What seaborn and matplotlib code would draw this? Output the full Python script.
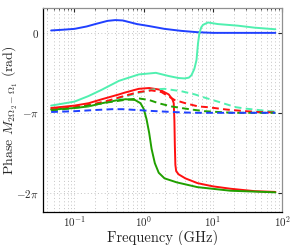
import numpy as np
import pandas as pd
import matplotlib
matplotlib.use("Agg")
import matplotlib.pyplot as plt
import seaborn as sns

# frequencies in GHz, phase values in units of pi
blue_f = [0.046, 0.07, 0.1, 0.15, 0.2, 0.3, 0.39, 0.5, 0.8, 1.2, 2, 3.5, 6, 10, 20, 40, 80]
blue_v = [0.03, 0.04, 0.05, 0.08, 0.11, 0.15, 0.16, 0.155, 0.11, 0.085, 0.05, 0.025, 0.008, 0.0, 0.0, 0.0, 0.0]

cyan_f = [0.046, 0.1, 0.16, 0.25, 0.44, 0.85, 1.5, 2.3, 3.2, 3.9, 4.5, 4.9, 5.4, 5.8, 6.1,
          6.4, 6.8, 7.2, 8.5, 11.8, 23, 40, 80]
cyan_v = [-0.91, -0.86, -0.79, -0.71, -0.60, -0.52, -0.50, -0.54, -0.565, -0.57, -0.56, -0.53,
          -0.45, -0.34, -0.13, 0.0, 0.07, 0.10, 0.13, 0.11, 0.09, 0.065, 0.045]

red_f = [0.046, 0.1, 0.16, 0.25, 0.44, 0.52, 0.85, 1.2, 1.7, 2.3, 2.6, 2.72, 2.78, 2.82, 2.87,
         2.95, 3.2, 4, 6, 10, 18, 40, 80]
red_v = [-0.94, -0.91, -0.88, -0.83, -0.77, -0.75, -0.70, -0.69, -0.71, -0.77, -0.83, -0.88,
         -1.1, -1.4, -1.65, -1.73, -1.77, -1.82, -1.88, -1.92, -1.95, -1.98, -1.99]

green_f = [0.046, 0.1, 0.16, 0.25, 0.4, 0.55, 0.75, 0.9, 1.0, 1.1, 1.2, 1.3, 1.45, 1.65, 2.0,
           3.0, 6, 18, 80]
green_v = [-0.96, -0.94, -0.92, -0.88, -0.845, -0.83, -0.84, -0.88, -0.95, -1.08, -1.25, -1.45,
           -1.63, -1.75, -1.82, -1.87, -1.93, -1.975, -1.995]

cyan_d_f = [0.046, 0.1, 0.19, 0.3, 0.52, 0.85, 1.3, 2.0, 3.5, 5.5, 7.6, 11.8, 21.5, 31.6, 58, 80]
cyan_d_v = [-0.97, -0.94, -0.90, -0.86, -0.80, -0.75, -0.71, -0.70, -0.73, -0.77, -0.81, -0.86,
            -0.93, -0.95, -0.975, -0.985]

red_d_f = [0.046, 0.1, 0.19, 0.3, 0.52, 0.85, 1.3, 1.8, 2.8, 4, 6.1, 8.5, 16, 30, 45, 80]
red_d_v = [-0.96, -0.93, -0.89, -0.85, -0.79, -0.74, -0.72, -0.74, -0.84, -0.88, -0.92, -0.93,
           -0.96, -0.98, -0.99, -0.995]

green_d_f = [0.046, 0.1, 0.19, 0.3, 0.52, 0.85, 1.2, 1.64, 2.5, 3.5, 5, 7.6, 12, 20, 80]
green_d_v = [-0.97, -0.94, -0.90, -0.87, -0.84, -0.82, -0.84, -0.88, -0.92, -0.94, -0.96, -0.98,
             -0.99, -1.0, -1.0]

blue_d_f = [0.046, 0.1, 0.2, 0.35, 0.5, 0.8, 1.2, 2, 3.5, 6, 80]
blue_d_v = [-0.99, -0.98, -0.965, -0.955, -0.955, -0.965, -0.975, -0.985, -0.995, -1.0, -1.0]

y_ticks = [-2, -1, 0]
y_ticklabels = [r"$-2\pi$", r"$-\pi$", r"$0$"]

series = [
    ("blue", "solid", blue_f, blue_v),
    ("cyan", "solid", cyan_f, cyan_v),
    ("red", "solid", red_f, red_v),
    ("green", "solid", green_f, green_v),
    ("cyan", "dashed", cyan_d_f, cyan_d_v),
    ("red", "dashed", red_d_f, red_d_v),
    ("green", "dashed", green_d_f, green_d_v),
    ("blue", "dashed", blue_d_f, blue_d_v),
]

rows = []
for col, sty, f, v in series:
    for fi, vi in zip(f, v):
        rows.append({"freq": fi, "phase": vi * np.pi, "line": f"{col}-{sty}", "style": sty})
df = pd.DataFrame(rows)

colors = {"blue": "#2040ff", "cyan": "#50f0b0", "red": "#ff1010", "green": "#20a000"}

sns.set_style("white")
plt.rcParams["font.family"] = ["cmr10", "DejaVu Serif"]
plt.rcParams["mathtext.fontset"] = "cm"
plt.rcParams["axes.unicode_minus"] = False
plt.rcParams["axes.formatter.use_mathtext"] = True

fig = plt.figure(figsize=(2.92, 2.45), dpi=100)
ax = fig.add_axes([0.147, 0.135, 0.819, 0.832])

ax.set_xscale("log")
ax.set_xlim(0.035, 100)
ax.set_ylim(-2.24 * np.pi, 0.31 * np.pi)

grid_kw = dict(color="#c4c4c4", linestyle=(0, (1, 2.5)), linewidth=0.7)
ax.grid(True, which="major", axis="both", **grid_kw)
ax.grid(True, which="minor", axis="x", **grid_kw)

for col, sty, f, v in series:
    key = f"{col}-{sty}"
    sub = df[df["line"] == key]
    sns.lineplot(data=sub, x="freq", y="phase", ax=ax, color=colors[col], estimator=None,
                 sort=False, linewidth=1.4, legend=False)
    if sty == "dashed":
        ax.lines[-1].set_dashes([3.5, 2.2])

ax.set_yticks([t * np.pi for t in y_ticks])
ax.set_yticklabels(y_ticklabels)
ax.tick_params(axis="both", which="both", direction="in", labelsize=8, top=True, right=True)
ax.tick_params(axis="x", pad=2)
ax.tick_params(axis="y", pad=3)
ax.tick_params(which="major", length=3)
ax.tick_params(which="minor", length=1.5)

for side in ["left", "bottom"]:
    ax.spines[side].set_color("black")
    ax.spines[side].set_linewidth(0.9)
for side in ["top", "right"]:
    ax.spines[side].set_color("#909090")
    ax.spines[side].set_linewidth(0.9)

ax.set_xlabel("Frequency (GHz)", fontsize=10.5)
ax.xaxis.set_label_coords(0.5, -0.088)
ax.set_ylabel(r"Phase $M_{2\Omega_2-\Omega_1}$ (rad)", fontsize=10)
ax.yaxis.set_label_coords(-0.095, 0.5)

fig.savefig("out.png", dpi=100)
